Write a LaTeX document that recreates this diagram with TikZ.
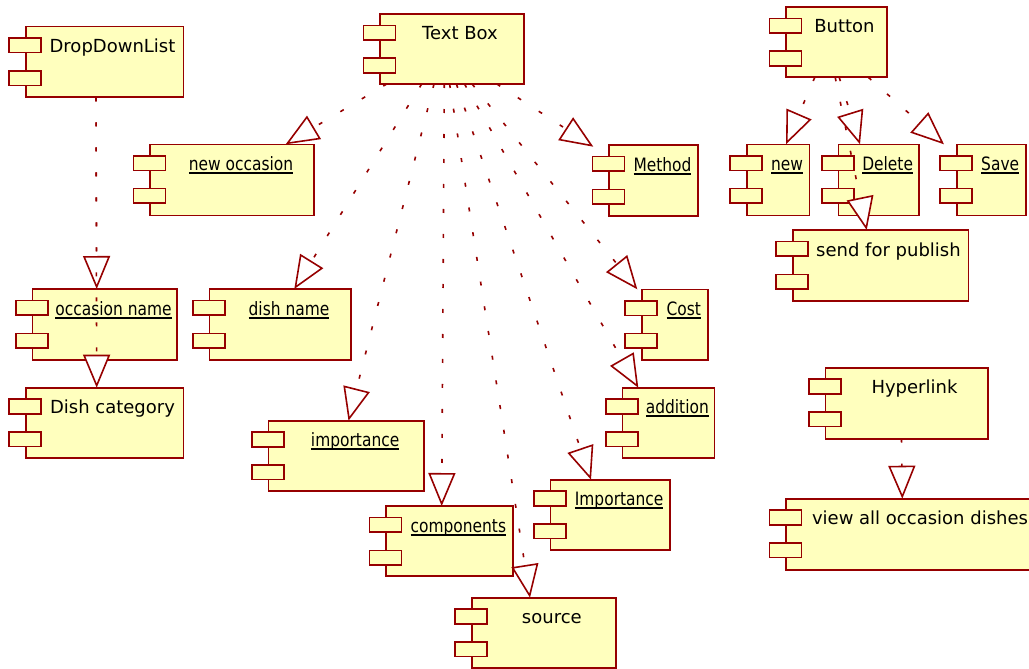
\documentclass[tikz,border=0pt]{standalone}
\usepackage{fontspec}
\setmainfont{DejaVu Sans}
\newfontfamily\ulfont[FakeStretch=0.84]{DejaVu Sans}
\usetikzlibrary{arrows.meta}
\definecolor{rose}{RGB}{150,0,0}
\definecolor{cfill}{RGB}{255,255,190}
\tikzset{
  cbody/.style={draw=rose, fill=cfill, line width=1.6pt, inner sep=0pt, outer sep=0pt},
  cport/.style={draw=rose, fill=cfill, line width=1.6pt},
  clabel/.style={inner sep=0pt, outer sep=0pt, text=black, font=\fontsize{18}{21}\selectfont},
  culabel/.style={inner sep=0pt, outer sep=0pt, text=black, font=\ulfont\fontsize{18.4}{21}\selectfont},
  uline/.style={draw=black, line width=1.8pt},
  dep/.style={draw=rose, line width=1.6pt, dash pattern=on 4pt off 21pt,
    -{Triangle[length=33pt,width=27pt,fill=white,line width=1.6pt]}}
}
% #1 name, #2 x, #3 y, #4 width, #5 height
\newcommand\compbox[5]{%
  \node[cbody, minimum width=#4pt, minimum height=#5pt, anchor=north west] (#1) at (#2,#3) {};
  \draw[cport] ([shift={(-16.5pt,-11.5pt)}]#1.north west) rectangle ++(32pt,-14.5pt);
  \draw[cport] ([shift={(-16.5pt,-44.3pt)}]#1.north west) rectangle ++(32pt,-14.5pt);
}
% plain label
\newcommand\complbl[2]{%
  \node[clabel, anchor=base] (#1t) at ([shift={(8pt,-26pt)}]#1.north) {#2};
}
% underlined label
\newcommand\compulbl[2]{%
  \node[culabel, anchor=base] (#1t) at ([shift={(9pt,-26pt)}]#1.north) {#2};
  \draw[uline] ([yshift=-2.6pt]#1t.base west) -- ([yshift=-2.6pt]#1t.base east);
}
\begin{document}
\begin{tikzpicture}[x=1pt,y=-1pt]
\useasboundingbox (0,0) rectangle (1029,669);

% components
\compbox{ddl}{25.7}{26.7}{157.6}{70.6}\complbl{ddl}{DropDownList}
\compbox{tb}{380}{14}{144}{70}\complbl{tb}{Text Box}
\compbox{btn}{786}{7}{101}{70.3}\complbl{btn}{Button}
\compbox{nocc}{150}{144.3}{164}{71}\compulbl{nocc}{new occasion}
\compbox{meth}{609}{145}{89}{70.7}\compulbl{meth}{Method}
\compbox{nw}{746.7}{144.3}{62.6}{71}\compulbl{nw}{new}
\compbox{del}{838.3}{144.3}{80.7}{71}\compulbl{del}{Delete}
\compbox{save}{956.7}{144.3}{69}{71}\compulbl{save}{Save}
\compbox{sfp}{792.7}{230}{175.6}{70.7}\complbl{sfp}{send for publish}
\compbox{occn}{32.3}{289}{144.4}{70.7}\compulbl{occn}{occasion name}
\compbox{dish}{209.3}{289}{141.4}{71}\compulbl{dish}{dish name}
\compbox{cost}{641.7}{289.3}{66}{70.4}\compulbl{cost}{Cost}
\compbox{dcat}{25.7}{387.7}{157.6}{70.3}\complbl{dcat}{Dish category}
\compbox{addn}{622.3}{387.7}{92}{70.3}\compulbl{addn}{addition}
\compbox{hyp}{825.3}{367.7}{162.4}{71}\complbl{hyp}{Hyperlink}
\compbox{impl}{268.3}{420.7}{155.7}{70}\compulbl{impl}{importance}
\compbox{impu}{550.3}{479.7}{119.7}{70.3}\compulbl{impu}{Importance}
\compbox{comp}{386}{506}{126.7}{70}\compulbl{comp}{components}
\compbox{view}{786}{498.7}{252}{71}\complbl{view}{view all occasion dishes}
\compbox{src}{471.7}{597.7}{144.3}{70}\complbl{src}{source}

% dependencies from Text Box
\draw[dep] ([xshift=6.7pt]tb.south west) -- ([xshift=135.7pt]nocc.north west);
\draw[dep] ([xshift=41.7pt]tb.south west) -- ([xshift=85pt]dish.north west);
\draw[dep] ([xshift=54pt]tb.south west) -- ([xshift=80.2pt]impl.north west);
\draw[dep] ([xshift=64.3pt]tb.south west) -- ([xshift=55.7pt]comp.north west);
\draw[dep] ([xshift=69.6pt]tb.south west) -- ([xshift=58.3pt]src.north west);
\draw[dep] ([xshift=76.4pt]tb.south west) -- ([xshift=40.7pt]impu.north west);
\draw[dep] ([xshift=84.5pt]tb.south west) -- ([xshift=16pt]addn.north west);
\draw[dep] ([xshift=92.1pt]tb.south west) -- ([xshift=-4.4pt]cost.north west);
\draw[dep] ([xshift=116.8pt]tb.south west) -- ([shift={(-15.7pt,-1.7pt)}]meth.north west);

% dependencies from Button
\draw[dep] ([xshift=28.8pt]btn.south west) -- ([xshift=39.3pt]nw.north west);
\draw[dep] ([xshift=53.2pt]btn.south west) -- ([xshift=21.7pt]del.north west);
\draw[dep] ([xshift=49.2pt]btn.south west) -- ([xshift=74pt]sfp.north west);
\draw[dep] ([xshift=82.3pt]btn.south west) -- ([xshift=-12.7pt]save.north west);

% dependencies from DropDownList
\draw[dep] ([xshift=70.3pt]ddl.south west) -- ([xshift=64.4pt]occn.north west);
\draw[dep] ([xshift=70.3pt]ddl.south west) -- ([xshift=71pt]dcat.north west);

% dependency from Hyperlink
\draw[dep] ([xshift=76.2pt]hyp.south west) -- ([xshift=116.3pt]view.north west);
\end{tikzpicture}
\end{document}
